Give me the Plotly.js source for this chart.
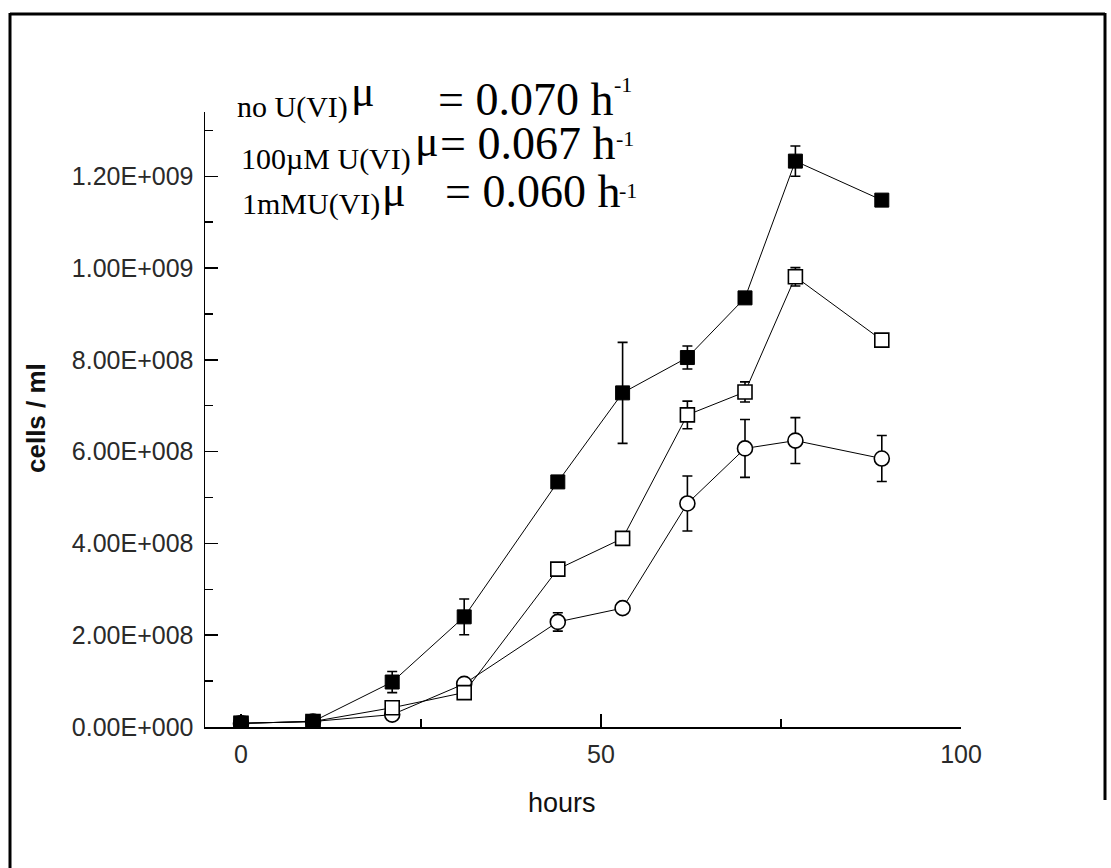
<!DOCTYPE html>
<html>
<head>
<meta charset="utf-8">
<script src="https://cdn.plot.ly/plotly-3.0.1.min.js"></script>
<style>html,body{margin:0;padding:0;background:#fff;}#chart{width:1111px;height:868px;}</style>
</head>
<body>
<div id="chart"></div>
<script>
// ---- data ----
const hours = [0, 10, 21, 31, 44, 53, 62, 70, 77, 89];
const noU      = [8e6, 1.2e7, 0.98e8, 2.40e8, 5.34e8, 7.28e8, 8.05e8, 9.35e8, 12.33e8, 11.48e8];
const noUErr   = [1.5e7, 0, 0.23e8, 0.39e8, 0.05e8, 1.10e8, 0.25e8, 0.08e8, 0.33e8, 0.04e8];
const u100     = [8e6, 1.2e7, 0.42e8, 0.75e8, 3.44e8, 4.11e8, 6.80e8, 7.30e8, 9.81e8, 8.43e8];
const u100Err  = [0, 0, 0.06e8, 0.06e8, 0.04e8, 0.05e8, 0.30e8, 0.22e8, 0.20e8, 0.08e8];
const mM1      = [8e6, 1.2e7, 0.27e8, 0.94e8, 2.29e8, 2.59e8, 4.87e8, 6.07e8, 6.24e8, 5.85e8];
const mM1Err   = [0, 0, 0.07e8, 0.06e8, 0.20e8, 0.05e8, 0.60e8, 0.63e8, 0.50e8, 0.50e8];
const yTickVals = [0, 2e8, 4e8, 6e8, 8e8, 10e8, 12e8];
const yTickText = ["0.00E+000", "2.00E+008", "4.00E+008", "6.00E+008", "8.00E+008", "1.00E+009", "1.20E+009"];
const xTickVals = [0, 50, 100];
const rateLines = [
  {sub: "no U(VI)", val: "= 0.070 h"},
  {sub: "100\u00b5M U(VI)", val: "= 0.067 h"},
  {sub: "1mMU(VI)", val: "= 0.060 h"}
];

// ---- geometry (pixels) ----
const W = 1111, H = 868;
const L = 205, R = 961, T = 112, B = 727;
const px = x => (x - L) / (R - L);
const py = y => (B - y) / (B - T);

function err(arr) { return {type: 'data', array: arr, visible: true, color: '#000', thickness: 1.6, width: 5}; }
const lineStyle = {color: '#000', width: 1};
const traces = [
  {x: hours, y: mM1, mode: 'lines+markers', error_y: err(mM1Err), line: lineStyle,
   marker: {symbol: 'circle', size: 15, color: '#fff', line: {color: '#000', width: 1.6}}},
  {x: hours, y: u100, mode: 'lines+markers', error_y: err(u100Err), line: lineStyle,
   marker: {symbol: 'square', size: 14, color: '#fff', line: {color: '#000', width: 1.6}}},
  {x: hours, y: noU, mode: 'lines+markers', error_y: err(noUErr), line: lineStyle,
   marker: {symbol: 'square', size: 14, color: '#000', line: {color: '#000', width: 1}}}
];

const serif = "Liberation Serif, Times New Roman, serif";
const sans = "Liberation Sans, Arial, sans-serif";
const subBase = [118.5, 171, 216], subX = [235, 239, 240];
const muBase = [107, 157, 207], muX = [349, 413, 380];
const valBase = [116, 160, 208], valX = [436, 438, 443];
const supBase = [93, 147, 199], supX = [612, 614, 617];
const annotations = [];
function bottomAt(baseline, fs) { return baseline + 0.216 * fs + 1; }
rateLines.forEach((r, i) => {
  annotations.push({xref: 'paper', yref: 'paper', x: px(subX[i]), y: py(bottomAt(subBase[i], 30)), xanchor: 'left', yanchor: 'bottom',
    text: r.sub, showarrow: false, font: {family: serif, size: 30, color: '#000'}});
  annotations.push({xref: 'paper', yref: 'paper', x: px(muX[i]), y: py(bottomAt(muBase[i], 44)), xanchor: 'left', yanchor: 'bottom',
    text: "\u03bc", showarrow: false, font: {family: serif, size: 44, color: '#000'}});
  annotations.push({xref: 'paper', yref: 'paper', x: px(valX[i]), y: py(bottomAt(valBase[i], 46)), xanchor: 'left', yanchor: 'bottom',
    text: r.val, showarrow: false, font: {family: serif, size: 46, color: '#000'}});
  annotations.push({xref: 'paper', yref: 'paper', x: px(supX[i]), y: py(bottomAt(supBase[i], 22)), xanchor: 'left', yanchor: 'bottom',
    text: "-1", showarrow: false, font: {family: serif, size: 22, color: '#000'}});
});
annotations.push({xref: 'paper', yref: 'paper', x: px(562), y: py(803), xanchor: 'center', yanchor: 'middle',
  text: "hours", showarrow: false, font: {family: sans, size: 27, color: '#111'}});
annotations.push({xref: 'paper', yref: 'paper', x: px(36), y: py(418), xanchor: 'center', yanchor: 'middle', textangle: -90,
  text: "<b>cells / ml</b>", showarrow: false, font: {family: sans, size: 26, color: '#111'}});

const frame = {color: '#000', width: 3};
const shapes = [
  {type: 'line', xref: 'paper', yref: 'paper', x0: px(10), x1: px(10), y0: py(13), y1: py(868), line: frame},
  {type: 'line', xref: 'paper', yref: 'paper', x0: px(10), x1: px(1105), y0: py(14), y1: py(14), line: frame},
  {type: 'line', xref: 'paper', yref: 'paper', x0: px(1105), x1: px(1105), y0: py(13), y1: py(800), line: frame}
];

const layout = {
  width: W, height: H, autosize: false,
  margin: {l: L, r: W - R, t: T, b: H - B, pad: 0},
  paper_bgcolor: '#fff', plot_bgcolor: '#fff',
  showlegend: false,
  font: {family: sans, color: '#222'},
  xaxis: {range: [-5, 100], tickvals: xTickVals, ticktext: xTickVals.map(String), ticks: 'inside', ticklen: 13, tickwidth: 1.5,
    tickcolor: '#000', showline: true, linecolor: '#000', linewidth: 1.5, showgrid: false, zeroline: false,
    tickfont: {family: sans, size: 25, color: '#2a2a2a'}, ticklabelstandoff: 4,
    minor: {tickvals: [25, 75], ticks: 'inside', ticklen: 8, tickwidth: 1.5, tickcolor: '#000', showgrid: false}},
  yaxis: {range: [0, 1.34e9], tickvals: yTickVals, ticktext: yTickText, ticks: 'inside', ticklen: 13, tickwidth: 1.5,
    tickcolor: '#000', showline: true, linecolor: '#000', linewidth: 1.5, showgrid: false, zeroline: false,
    tickfont: {family: sans, size: 25, color: '#2a2a2a'}, ticklabelstandoff: 5,
    minor: {tickvals: [1e8, 3e8, 5e8, 7e8, 9e8, 11e8, 13e8], ticks: 'inside', ticklen: 8, tickwidth: 1.5, tickcolor: '#000', showgrid: false}},
  annotations: annotations,
  shapes: shapes
};

Plotly.newPlot('chart', traces, layout, {displayModeBar: false, staticPlot: true});
</script>
</body>
</html>
